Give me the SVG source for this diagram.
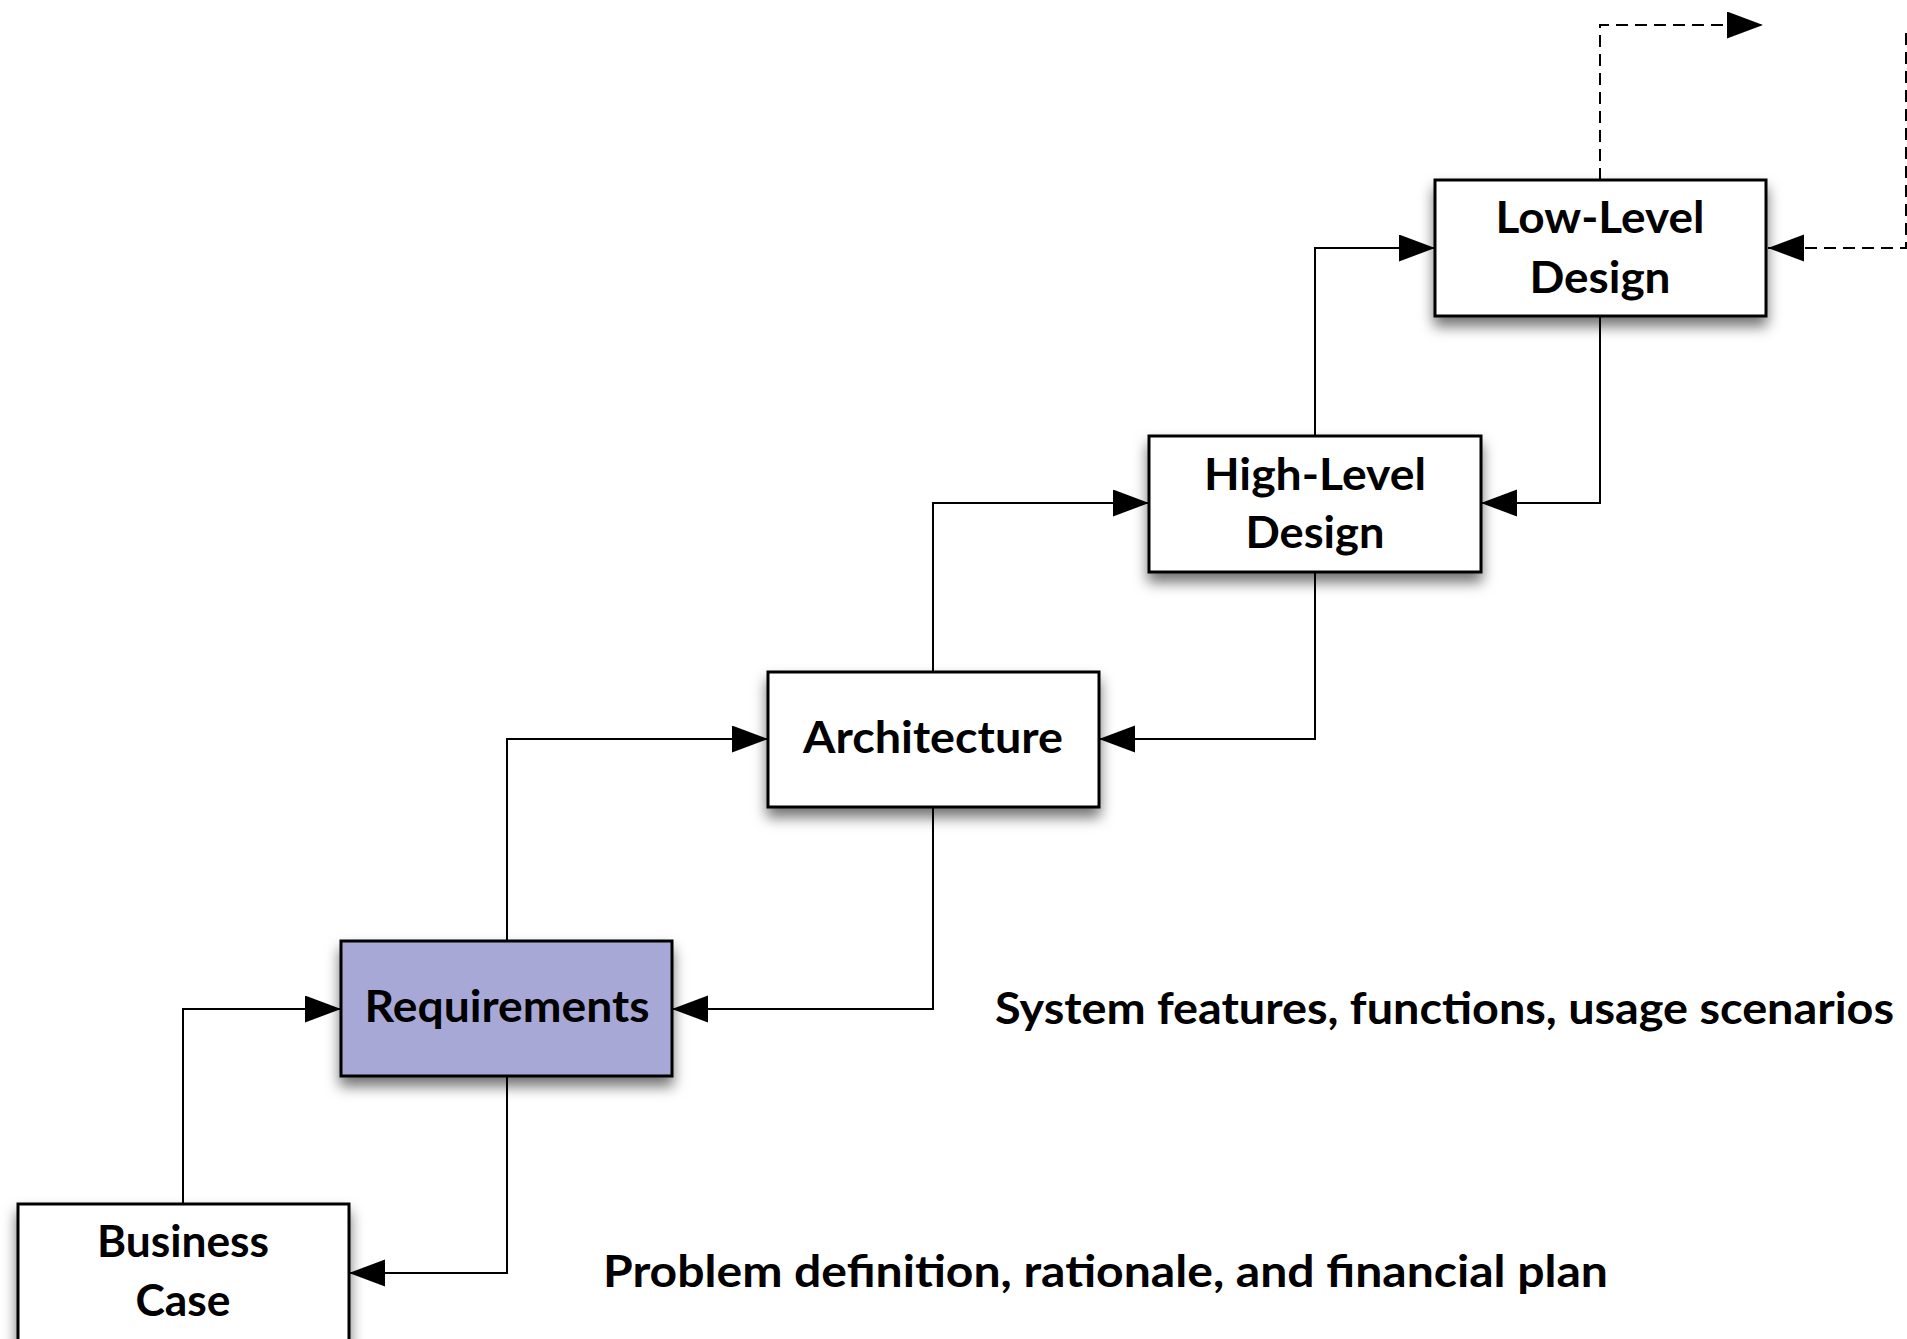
<svg xmlns="http://www.w3.org/2000/svg" width="1907" height="1339" viewBox="0 0 1907 1339">
  <defs>
    <marker id="arrow" markerUnits="userSpaceOnUse" markerWidth="37" markerHeight="28" refX="36" refY="13.5" orient="auto">
      <path d="M0,0 L36,13.5 L0,27 z" fill="#000"/>
    </marker>
    <filter id="shadow" x="-20%" y="-30%" width="140%" height="170%">
      <feDropShadow dx="0" dy="9" stdDeviation="7" flood-color="#000" flood-opacity="0.55"/>
    </filter>
  </defs>
  <style>
    .box { fill: #ffffff; stroke: #000; stroke-width: 3; filter: url(#shadow); }
    .req { fill: #a8a8d6; }
    .lbl { font-family: Lato, "Open Sans", "Liberation Sans", sans-serif; font-weight: bold; font-size: 44px; fill: #000; text-anchor: middle; }
    .note { font-family: Lato, "Open Sans", "Liberation Sans", sans-serif; font-weight: bold; font-size: 44px; fill: #000; }
    .conn { fill: none; stroke: #000; stroke-width: 2; marker-end: url(#arrow); }
    .dash { stroke-dasharray: 12 7; }
  </style>
  <rect width="1907" height="1339" fill="#ffffff"/>

  <g id="connectors">
    <path class="conn" d="M183,1204 V1009 H341"/>
    <path class="conn" d="M507,1076 V1273 H349"/>
    <path class="conn" d="M507,941 V739 H768"/>
    <path class="conn" d="M933,807 V1009 H672"/>
    <path class="conn" d="M933,672 V503 H1149"/>
    <path class="conn" d="M1315,572 V739 H1099"/>
    <path class="conn" d="M1315,436 V248 H1435"/>
    <path class="conn" d="M1600,316 V503 H1481"/>
    <path class="conn dash" d="M1600,180 V25 H1763"/>
    <path class="conn dash" d="M1906,33 V248 H1768"/>
  </g>

  <g id="node-business-case">
    <rect class="box" x="18" y="1204" width="331" height="150"/>
    <text class="lbl" x="183" y="1257" textLength="172" lengthAdjust="spacingAndGlyphs">Business</text>
    <text class="lbl" x="183" y="1316" textLength="95" lengthAdjust="spacingAndGlyphs">Case</text>
  </g>

  <g id="node-requirements">
    <rect class="box req" x="341" y="941" width="331" height="135"/>
    <text class="lbl" x="507" y="1022" textLength="285" lengthAdjust="spacingAndGlyphs">Requirements</text>
  </g>

  <g id="node-architecture">
    <rect class="box" x="768" y="672" width="331" height="135"/>
    <text class="lbl" x="933" y="753" textLength="260" lengthAdjust="spacingAndGlyphs">Architecture</text>
  </g>

  <g id="node-high-level-design">
    <rect class="box" x="1149" y="436" width="332" height="136"/>
    <text class="lbl" x="1315" y="490" textLength="222" lengthAdjust="spacingAndGlyphs">High-Level</text>
    <text class="lbl" x="1315" y="548" textLength="139" lengthAdjust="spacingAndGlyphs">Design</text>
  </g>

  <g id="node-low-level-design">
    <rect class="box" x="1435" y="180" width="331" height="136"/>
    <text class="lbl" x="1600" y="233" textLength="209" lengthAdjust="spacingAndGlyphs">Low-Level</text>
    <text class="lbl" x="1600" y="293" textLength="141" lengthAdjust="spacingAndGlyphs">Design</text>
  </g>

  <g id="notes">
    <text class="note" x="995" y="1024" textLength="899" lengthAdjust="spacingAndGlyphs">System features, functions, usage scenarios</text>
    <text class="note" x="603" y="1287" textLength="1005" lengthAdjust="spacingAndGlyphs">Problem definition, rationale, and financial plan</text>
  </g>
</svg>
